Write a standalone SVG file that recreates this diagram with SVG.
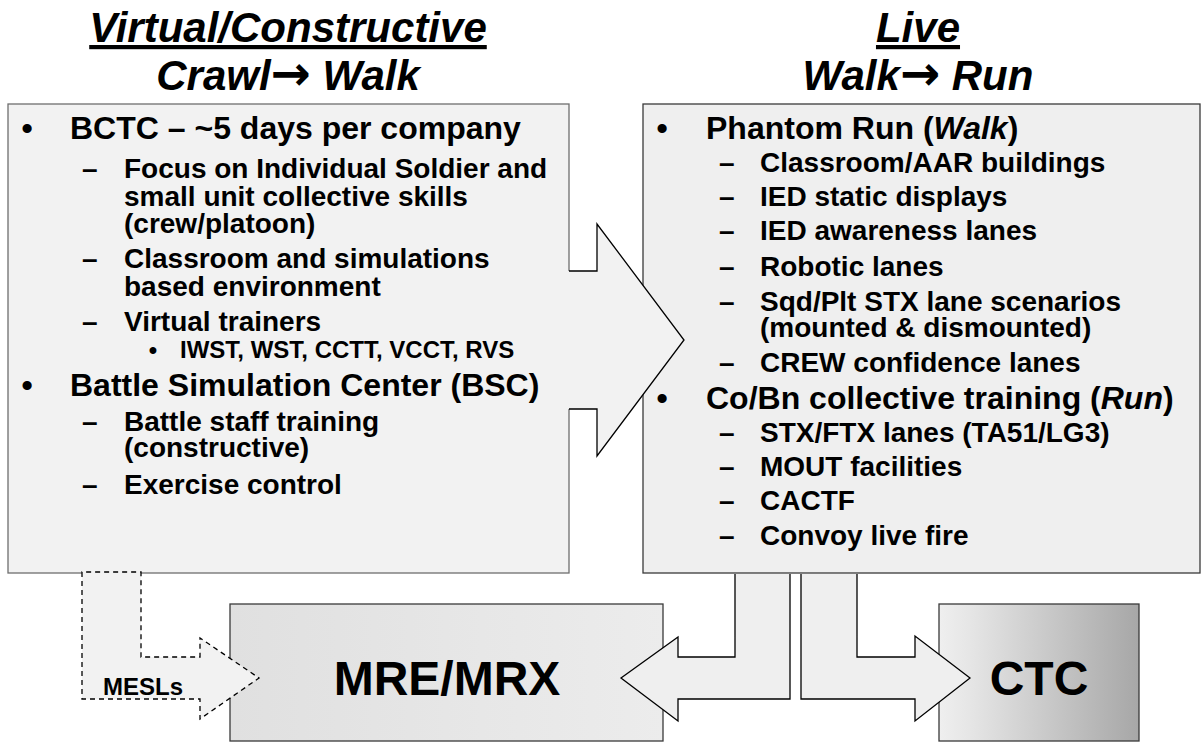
<svg xmlns="http://www.w3.org/2000/svg" width="1203" height="742" viewBox="0 0 1203 742">
  <style>
    text { font-family: "Liberation Sans", Arial, sans-serif; font-weight: bold; fill: #000; }
    .head { font-size: 42px; font-style: italic; text-anchor: middle; }
    .arrow { font-family: "DejaVu Sans", sans-serif; font-style: normal; font-size: 48px; }
    .ul { text-decoration: underline; }
    .l1 { font-size: 32px; }
    .l2 { font-size: 28px; }
    .l3 { font-size: 24px; }
    .mid { text-anchor: middle; }
    .it { font-style: italic; }
    .big { font-size: 48px; text-anchor: middle; }
    .panelL { fill: #f2f2f2; stroke: #6e6e6e; stroke-width: 1.3; }
    .panelR { fill: #efefef; stroke: #3a3a3a; stroke-width: 1.3; }
    .flow { fill: #efefef; stroke: #000; stroke-width: 1.3; stroke-linejoin: miter; }
    .dashed { fill: #f2f2f2; stroke: #000; stroke-width: 1.3; stroke-dasharray: 5 4; }
    .dest { stroke: #3a3a3a; stroke-width: 1.3; }
  </style>
  <defs>
    <linearGradient id="gMre" x1="0" y1="0" x2="1" y2="0">
      <stop offset="0" stop-color="#e0e0e0"/>
      <stop offset="1" stop-color="#ececec"/>
    </linearGradient>
    <linearGradient id="gCtc" x1="0" y1="0" x2="1" y2="0">
      <stop offset="0" stop-color="#efefef"/>
      <stop offset="0.15" stop-color="#e6e6e6"/>
      <stop offset="1" stop-color="#a7a7a7"/>
    </linearGradient>
  </defs>

  <rect width="1203" height="742" fill="#fff"/>

  <!-- column headings -->
  <g id="heading-left">
    <text class="head ul" x="288" y="42">Virtual/Constructive</text>
    <text class="head" x="288" y="90">Crawl<tspan class="arrow">→</tspan> Walk</text>
  </g>
  <g id="heading-right">
    <text class="head ul" x="918" y="42">Live</text>
    <text class="head" x="918" y="90">Walk<tspan class="arrow">→</tspan> Run</text>
  </g>

  <!-- live training panel -->
  <g id="live-panel">
    <rect class="panelR" x="643" y="104" width="557" height="469"/>
    <text class="l1 mid" x="662" y="139">•</text>
    <text class="l1" x="706" y="139">Phantom Run (<tspan class="it">Walk</tspan>)</text>
    <g class="l2">
      <text x="719" y="172">–</text><text x="760" y="172">Classroom/AAR buildings</text>
      <text x="719" y="206">–</text><text x="760" y="206">IED static displays</text>
      <text x="719" y="240">–</text><text x="760" y="240">IED awareness lanes</text>
      <text x="719" y="276">–</text><text x="760" y="276">Robotic lanes</text>
      <text x="719" y="311">–</text><text x="760" y="311">Sqd/Plt STX lane scenarios</text>
      <text x="760" y="337">(mounted &amp; dismounted)</text>
      <text x="719" y="372">–</text><text x="760" y="372">CREW confidence lanes</text>
    </g>
    <text class="l1 mid" x="662" y="409">•</text>
    <text class="l1" x="706" y="409">Co/Bn collective training (<tspan class="it">Run</tspan>)</text>
    <g class="l2">
      <text x="719" y="442">–</text><text x="760" y="442">STX/FTX lanes (TA51/LG3)</text>
      <text x="719" y="476">–</text><text x="760" y="476">MOUT facilities</text>
      <text x="719" y="510">–</text><text x="760" y="510">CACTF</text>
      <text x="719" y="545">–</text><text x="760" y="545">Convoy live fire</text>
    </g>
  </g>

  <!-- virtual / constructive panel -->
  <g id="virtual-panel">
    <rect class="panelL" x="8" y="104" width="561" height="469"/>
    <text class="l1 mid" x="27" y="139">•</text>
    <text class="l1" x="70" y="139">BCTC – ~5 days per company</text>
    <g class="l2">
      <text x="82" y="178">–</text><text x="124" y="178">Focus on Individual Soldier and</text>
      <text x="124" y="206">small unit collective skills</text>
      <text x="124" y="233">(crew/platoon)</text>
      <text x="82" y="268">–</text><text x="124" y="268">Classroom and simulations</text>
      <text x="124" y="296">based environment</text>
      <text x="82" y="331">–</text><text x="124" y="331">Virtual trainers</text>
    </g>
    <text class="l3 mid" x="153" y="358">•</text>
    <text class="l3" x="180" y="358">IWST, WST, CCTT, VCCT, RVS</text>
    <text class="l1 mid" x="27" y="396">•</text>
    <text class="l1" x="70" y="396">Battle Simulation Center (BSC)</text>
    <g class="l2">
      <text x="82" y="431">–</text><text x="124" y="431">Battle staff training</text>
      <text x="124" y="457">(constructive)</text>
      <text x="82" y="494">–</text><text x="124" y="494">Exercise control</text>
    </g>
  </g>

  <!-- destination boxes -->
  <g id="mre-mrx">
    <rect class="dest" x="230" y="604" width="433" height="137" fill="url(#gMre)"/>
    <text class="big" x="447" y="695">MRE/MRX</text>
  </g>
  <g id="ctc">
    <rect class="dest" x="939" y="604" width="200" height="137" fill="url(#gCtc)"/>
    <text class="big" x="1039" y="695">CTC</text>
  </g>

  <!-- connectors -->
  <g id="connectors">
    <!-- main progression arrow out of the virtual panel -->
    <polygon points="566,271 597,271 597,224 684,340 597,456 597,409 566,409" fill="#f2f2f2"/>
    <path d="M569,271 H597 V224 L684,340 L597,456 V409 H569" fill="none" stroke="#000" stroke-width="1.3"/>
    <!-- MESLs: virtual panel to MRE/MRX -->
    <path class="dashed" d="M82,572 V699 H200 V719 L259,678 L200,638 V657 H141 V572 Z"/>
    <text class="l3" x="103" y="695">MESLs</text>
    <!-- live panel to MRE/MRX -->
    <path class="flow" d="M735,574 V657 H678 V637 L621,678 L678,721 V699 H790 V574"/>
    <!-- live panel to CTC -->
    <path class="flow" d="M801,574 V699 H915 V721 L970,678 L915,636 V657 H857 V574"/>
  </g>
</svg>
